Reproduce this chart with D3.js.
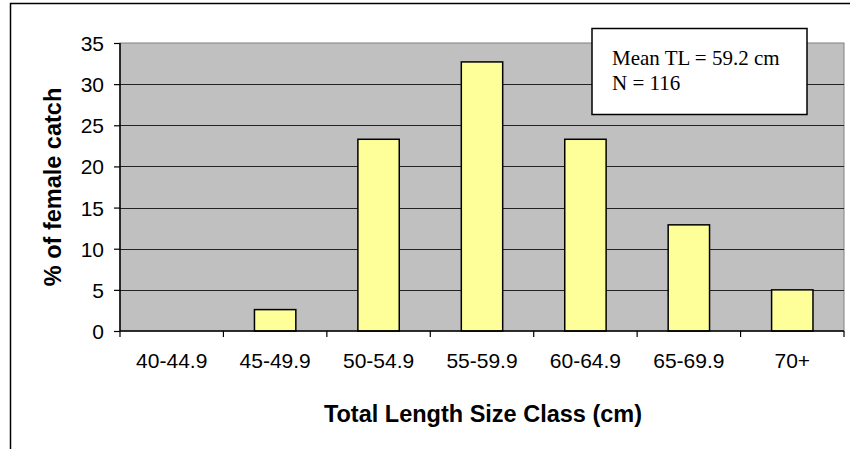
<!DOCTYPE html>
<html><head><meta charset="utf-8">
<script src="https://cdn.jsdelivr.net/npm/d3@7"></script>
<style>body{margin:0;background:#fff}svg{display:block}</style>
</head><body>
<svg id="c" width="850" height="449"></svg>
<script>
const categories = ["40-44.9","45-49.9","50-54.9","55-59.9","60-64.9","65-69.9","70+"];
const values = [0, 2.6, 23.3, 32.7, 23.3, 12.9, 5.0];
const yTicks = [0,5,10,15,20,25,30,35];
const noteLines = ["Mean TL = 59.2 cm", "N = 116"];

const svg = d3.select("#c");
const W = 850, H = 449;
const m = {left:120, top:43, right:844, bottom:331};
const sans = "Liberation Sans, Arial, sans-serif";

// outer frame
svg.append("rect").attr("x",10.5).attr("y",3.5).attr("width",W+10).attr("height",H+10)
  .attr("fill","#fff").attr("stroke","#000").attr("stroke-width",1.5);

const x = d3.scaleBand().domain(categories).range([m.left,m.right]).paddingInner(0).paddingOuter(0);
const y = d3.scaleLinear().domain([0,35]).range([m.bottom,m.top]);

// plot area
svg.append("rect").attr("x",m.left).attr("y",m.top).attr("width",m.right-m.left).attr("height",m.bottom-m.top)
  .attr("fill","#c0c0c0").attr("stroke","#808080").attr("stroke-width",1);

// gridlines
svg.append("g").selectAll("line").data(yTicks.filter(d=>d>0&&d<35)).join("line")
  .attr("x1",m.left).attr("x2",m.right).attr("y1",d=>Math.round(y(d))+0.5).attr("y2",d=>Math.round(y(d))+0.5)
  .attr("stroke","#222").attr("stroke-width",1);

// bars
const bw = x.bandwidth()/2.5;
const barData = values.map((v,i)=>({c:categories[i],v})).filter(d=>d.v>0);
svg.append("g").selectAll("rect").data(barData).join("rect")
  .attr("x",d=>x(d.c)+x.bandwidth()/2-bw/2).attr("width",bw)
  .attr("y",d=>y(d.v)).attr("height",d=>y(0)-y(d.v))
  .attr("fill","#ffff99").attr("stroke","#000").attr("stroke-width",1.5);

// y axis
const ya = svg.append("g").attr("transform",`translate(${m.left},0)`)
  .call(d3.axisLeft(y).tickValues(yTicks).tickSize(6).tickPadding(10).tickFormat(d3.format("d")));
ya.select(".domain").attr("stroke","#000").attr("stroke-width",1.5).attr("d",`M0,${m.top}V${m.bottom}`);
ya.selectAll(".tick line").attr("stroke","#000").attr("stroke-width",1.2);
ya.selectAll("text").attr("font-family",sans).attr("font-size",21).attr("fill","#000").attr("dy","0.36em");

// x axis
const xa = svg.append("g").attr("transform",`translate(0,${m.bottom})`)
  .call(d3.axisBottom(x).tickSize(0).tickPadding(0));
xa.select(".domain").attr("stroke","#000").attr("stroke-width",1.5).attr("d",`M${m.left},0H${m.right}`);
xa.selectAll("text").attr("font-family",sans).attr("font-size",21).attr("fill","#000")
  .attr("y",37).attr("dy",0);
// category boundary ticks
svg.append("g").selectAll("line").data(categories.map(c=>x(c)).concat([m.right])).join("line")
  .attr("x1",d=>d).attr("x2",d=>d).attr("y1",m.bottom).attr("y2",m.bottom+6)
  .attr("stroke","#000").attr("stroke-width",1.2);

// axis titles
svg.append("text").attr("transform",`translate(61,187) rotate(-90)`).attr("text-anchor","middle")
  .attr("font-family",sans).attr("font-weight","bold").attr("font-size",23.5).text("% of female catch");
svg.append("text").attr("x",483).attr("y",422).attr("text-anchor","middle")
  .attr("font-family",sans).attr("font-weight","bold").attr("font-size",23.5).text("Total Length Size Class (cm)");

// note box
svg.append("rect").attr("x",592).attr("y",28.5).attr("width",215).attr("height",86)
  .attr("fill","#fff").attr("stroke","#000").attr("stroke-width",1.5);
svg.append("g").selectAll("text").data(noteLines).join("text")
  .attr("x",612).attr("y",(d,i)=>65+i*24.5)
  .attr("font-family","Liberation Serif, Times New Roman, serif").attr("font-size",21).text(d=>d);
</script>
</body></html>
